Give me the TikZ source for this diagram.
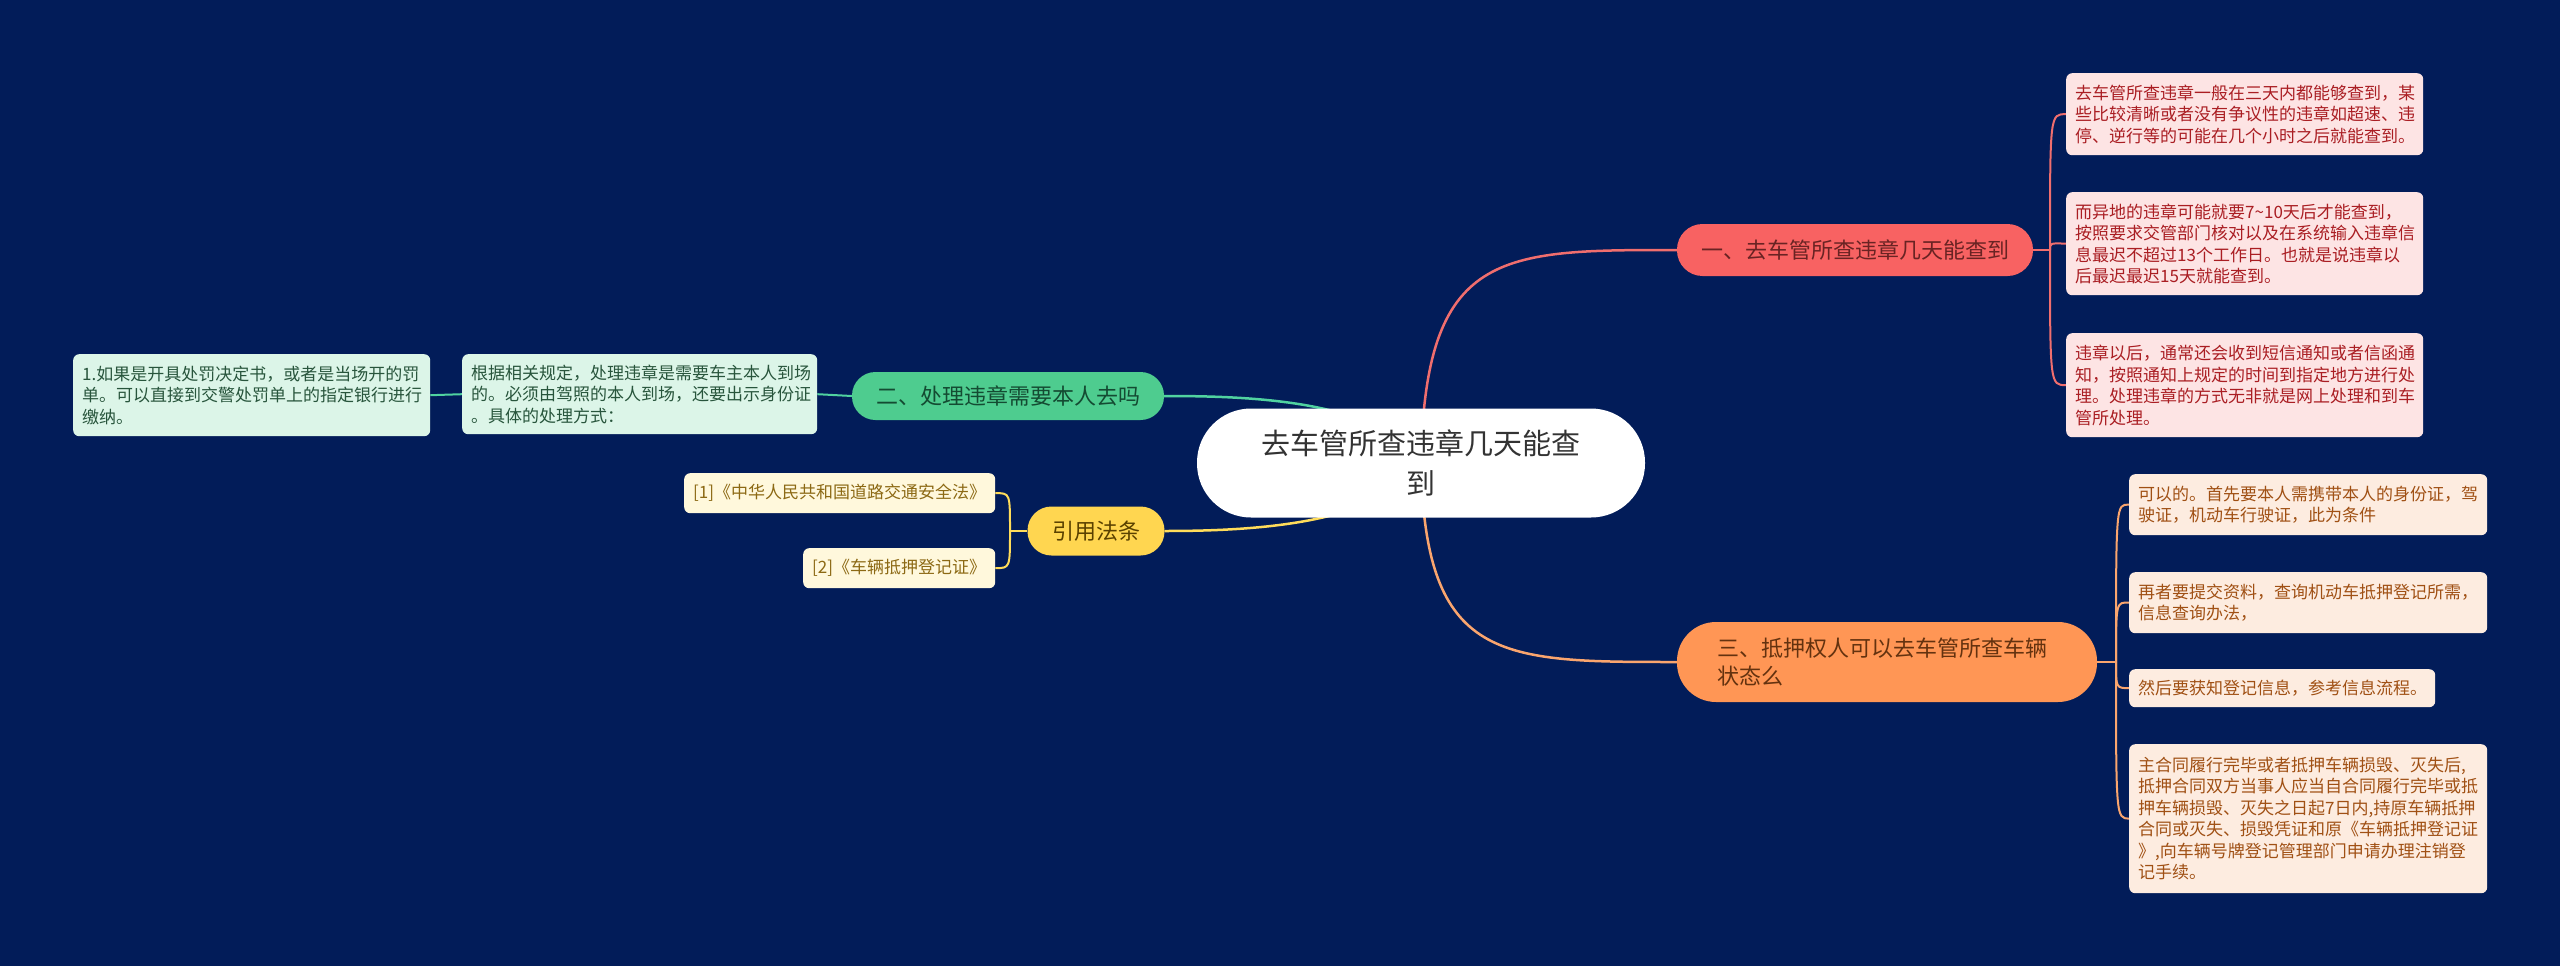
\documentclass[tikz,border=0pt]{standalone}
\usepackage{fontspec}
\setmainfont{Noto Sans CJK SC}
\pgfdeclarelayer{bg}
\pgfdeclarelayer{background}
\pgfsetlayers{bg,background,main}
\definecolor{bgc}{RGB}{2,28,89}
\definecolor{cfill}{RGB}{255,255,255}
\definecolor{ctext}{RGB}{51,51,51}
\definecolor{rfill}{RGB}{248,98,98}
\definecolor{rtext}{RGB}{105,35,35}
\definecolor{rline}{RGB}{240,110,110}
\definecolor{rlfill}{RGB}{253,228,228}
\definecolor{rltext}{RGB}{170,30,35}
\definecolor{ofill}{RGB}{255,150,85}
\definecolor{otext}{RGB}{100,50,15}
\definecolor{oline}{RGB}{250,165,110}
\definecolor{olfill}{RGB}{253,236,224}
\definecolor{oltext}{RGB}{160,80,20}
\definecolor{gfill}{RGB}{78,204,143}
\definecolor{gtext}{RGB}{20,75,50}
\definecolor{gline}{RGB}{80,210,160}
\definecolor{glfill}{RGB}{220,245,232}
\definecolor{gltext}{RGB}{40,85,60}
\definecolor{yfill}{RGB}{255,214,80}
\definecolor{ytext}{RGB}{90,65,0}
\definecolor{yline}{RGB}{255,220,90}
\definecolor{ylfill}{RGB}{255,248,220}
\definecolor{yltext}{RGB}{140,105,20}
\tikzset{
  leafbox/.style={anchor=north west, align=left, inner xsep=9pt, inner ysep=0pt,
    rounded corners=6pt, font=\fontsize{17}{21.5}\selectfont},
  pill/.style={align=center, inner sep=0pt, font=\fontsize{22}{28}\selectfont},
  conn/.style={line width=2.5pt},
  sub/.style={line width=2pt},
}
\begin{document}
\begin{tikzpicture}[x=1pt,y=-1pt]
\begin{pgfonlayer}{bg}
\fill[bgc] (0,0) rectangle (2560,966);
\end{pgfonlayer}
\useasboundingbox (0,0) rectangle (2560,966);

% central node
\node[fill=cfill, text=ctext, align=center, inner sep=0pt, minimum width=448pt, minimum height=109pt,
  rounded corners=54pt, font=\fontsize{29}{40}\selectfont] (c) at (1421,463)
  {去车管所查违章几天能查\\到};

% branches
\node[pill, fill=rfill, text=rtext, minimum width=356pt, minimum height=52pt, rounded corners=25.5pt]
  (b1) at (1855,250) {一、去车管所查违章几天能查到};
\node[pill, fill=ofill, text=otext, align=left, text width=340pt, inner xsep=40pt, minimum height=80pt,
  rounded corners=39pt] (b3) at (1887,662) {三、抵押权人可以去车管所查车辆\\状态么};
\node[pill, fill=gfill, text=gtext, minimum width=312pt, minimum height=48pt, rounded corners=23.5pt]
  (b2) at (1008,396) {二、处理违章需要本人去吗};
\node[pill, fill=yfill, text=ytext, minimum width=137pt, minimum height=49pt, rounded corners=24pt]
  (by) at (1096,531) {引用法条};

% leaves of branch 1
\node[leafbox, fill=rlfill, text=rltext, text width=339pt, minimum height=82pt] (r1) at (2066,73)
  {去车管所查违章一般在三天内都能够查到，某\\些比较清晰或者没有争议性的违章如超速、违\\停、逆行等的可能在几个小时之后就能查到。};
\node[leafbox, fill=rlfill, text=rltext, text width=339pt, minimum height=103pt] (r2) at (2066,192)
  {而异地的违章可能就要7\textasciitilde10天后才能查到，\\按照要求交管部门核对以及在系统输入违章信\\息最迟不超过13个工作日。也就是说违章以\\后最迟最迟15天就能查到。};
\node[leafbox, fill=rlfill, text=rltext, text width=339pt, minimum height=104pt] (r3) at (2066,333)
  {违章以后，通常还会收到短信通知或者信函通\\知，按照通知上规定的时间到指定地方进行处\\理。处理违章的方式无非就是网上处理和到车\\管所处理。};

% leaves of branch 3
\node[leafbox, fill=olfill, text=oltext, text width=340pt, minimum height=61pt] (o1) at (2129,474)
  {可以的。首先要本人需携带本人的身份证，驾\\驶证，机动车行驶证，此为条件};
\node[leafbox, fill=olfill, text=oltext, text width=340pt, minimum height=61pt] (o2) at (2129,572)
  {再者要提交资料，查询机动车抵押登记所需，\\信息查询办法，};
\node[leafbox, fill=olfill, text=oltext, text width=288pt, minimum height=38pt] (o3) at (2129,669)
  {然后要获知登记信息，参考信息流程。};
\node[leafbox, fill=olfill, text=oltext, text width=340pt, minimum height=149pt] (o4) at (2129,744)
  {主合同履行完毕或者抵押车辆损毁、灭失后,\\抵押合同双方当事人应当自合同履行完毕或抵\\押车辆损毁、灭失之日起7日内,持原车辆抵押\\合同或灭失、损毁凭证和原《车辆抵押登记证\\》,向车辆号牌登记管理部门申请办理注销登\\记手续。};

% leaves of branch 2
\node[leafbox, fill=glfill, text=gltext, text width=337pt, minimum height=80pt] (g1) at (462,354)
  {根据相关规定，处理违章是需要车主本人到场\\的。必须由驾照的本人到场，还要出示身份证\\。具体的处理方式：};
\node[leafbox, fill=glfill, text=gltext, text width=339pt, minimum height=82pt] (g2) at (73,354)
  {1.如果是开具处罚决定书，或者是当场开的罚\\单。可以直接到交警处罚单上的指定银行进行\\缴纳。};

% leaves of quoted laws
\node[leafbox, fill=ylfill, text=yltext, text width=293pt, minimum height=40pt] (y1) at (684,473)
  {[1]《中华人民共和国道路交通安全法》};
\node[leafbox, fill=ylfill, text=yltext, text width=174pt, minimum height=40pt] (y2) at (803,548)
  {[2]《车辆抵押登记证》};

\coordinate (h1) at (2050,250);
\coordinate (h3) at (2116,662);
\coordinate (hy) at (1010,531);

\begin{pgfonlayer}{background}
% main connectors
\draw[conn, rline] (c.center) .. controls (1425,250) and (1500,250) .. (b1.west);
\draw[conn, oline] (c.center) .. controls (1425,662) and (1500,662) .. (b3.west);
\draw[conn, gline] (c.center) .. controls (1380,400) and (1250,396) .. (b2.east);
\draw[conn, yline] (c.center) .. controls (1380,525) and (1250,531) .. (by.east);
% branch 1 leaves
\draw[sub, rline] (b1.east) -- (h1);
\draw[sub, rline] (h1) .. controls (2050,114) and (2050,114) .. (r1.west);
\draw[sub, rline] (h1) .. controls (2050,243) and (2050,243) .. (r2.west);
\draw[sub, rline] (h1) .. controls (2050,385) and (2050,385) .. (r3.west);
% branch 3 leaves
\draw[sub, oline] (b3.east) -- (h3);
\draw[sub, oline] (h3) .. controls (2116,504) and (2116,504) .. (o1.west);
\draw[sub, oline] (h3) .. controls (2116,602) and (2116,602) .. (o2.west);
\draw[sub, oline] (h3) .. controls (2116,688) and (2116,688) .. (o3.west);
\draw[sub, oline] (h3) .. controls (2116,818) and (2116,818) .. (o4.west);
% branch 2 leaves
\draw[sub, gline] (b2.west) -- (g1.east);
\draw[sub, gline] (g1.west) -- (g2.east);
% quoted laws
\draw[sub, yline] (by.west) -- (hy);
\draw[sub, yline] (hy) .. controls (1010,493) and (1010,493) .. (y1.east);
\draw[sub, yline] (hy) .. controls (1010,568) and (1010,568) .. (y2.east);
\end{pgfonlayer}
\end{tikzpicture}
\end{document}
